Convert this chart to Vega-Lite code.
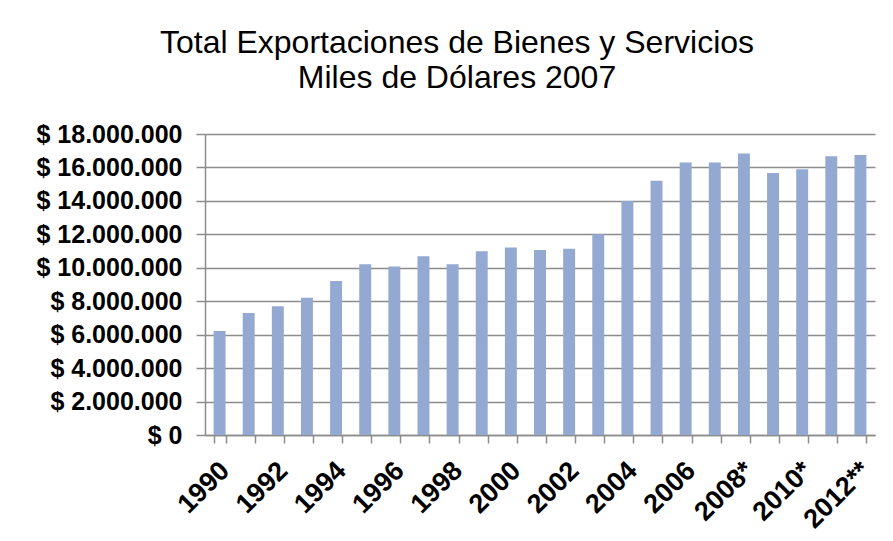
{
  "$schema": "https://vega.github.io/schema/vega-lite/v6.json",
  "width": 670,
  "height": 301,
  "autosize": {"type": "none"},
  "padding": {"left": 205, "top": 134, "right": 18, "bottom": 106},
  "background": "white",
  "config": {
    "view": {"stroke": null},
    "font": "Liberation Sans",
    "locale": {"number": {"decimal": ",", "thousands": ".", "grouping": [3], "currency": ["$ ", ""]}}
  },
  "title": {
    "text": ["Total Exportaciones de Bienes y Servicios", "Miles de Dólares 2007"],
    "fontSize": 32,
    "fontWeight": "normal",
    "font": "Liberation Sans",
    "color": "black",
    "anchor": "middle",
    "dx": -83,
    "offset": 27,
    "lineHeight": 35
  },
  "data": {
    "values": [
      {"year": "1990", "value": 6220000},
      {"year": "1991", "value": 7300000},
      {"year": "1992", "value": 7700000},
      {"year": "1993", "value": 8210000},
      {"year": "1994", "value": 9210000},
      {"year": "1995", "value": 10210000},
      {"year": "1996", "value": 10070000},
      {"year": "1997", "value": 10690000},
      {"year": "1998", "value": 10210000},
      {"year": "1999", "value": 10990000},
      {"year": "2000", "value": 11220000},
      {"year": "2001", "value": 11060000},
      {"year": "2002", "value": 11140000},
      {"year": "2003", "value": 12000000},
      {"year": "2004", "value": 14000000},
      {"year": "2005", "value": 15210000},
      {"year": "2006", "value": 16290000},
      {"year": "2007", "value": 16290000},
      {"year": "2008*", "value": 16830000},
      {"year": "2009*", "value": 15670000},
      {"year": "2010*", "value": 15890000},
      {"year": "2011*", "value": 16670000},
      {"year": "2012**", "value": 16750000}
    ]
  },
  "mark": {"type": "bar", "color": "#94A9D1"},
  "encoding": {
    "x": {
      "field": "year",
      "type": "ordinal",
      "sort": null,
      "title": null,
      "scale": {"paddingInner": 0.59, "paddingOuter": 0.295},
      "axis": {
        "tickBand": "extent",
        "tickSize": 8,
        "tickColor": "#8c8c8c",
        "tickWidth": 1.5,
        "domainColor": "#8c8c8c",
        "domainWidth": 1.5,
        "labelAngle": -45,
        "labelFont": "Liberation Sans",
        "labelFontSize": 27,
        "labelFontWeight": "bold",
        "labelColor": "black",
        "labelOverlap": false,
        "labelBound": false,
        "labelPadding": 14,
        "labelOffset": -4,
        "labelExpr": "indexof(['1990','1992','1994','1996','1998','2000','2002','2004','2006','2008*','2010*','2012**'], datum.value) >= 0 ? datum.value : ''"
      }
    },
    "y": {
      "field": "value",
      "type": "quantitative",
      "title": null,
      "scale": {"domain": [0, 18000000], "nice": false},
      "axis": {
        "values": [0, 2000000, 4000000, 6000000, 8000000, 10000000, 12000000, 14000000, 16000000, 18000000],
        "format": "$,.0f",
        "grid": true,
        "gridColor": "#8c8c8c",
        "gridWidth": 1.5,
        "gridOpacity": 1,
        "domainColor": "#8c8c8c",
        "domainWidth": 1.5,
        "tickColor": "#8c8c8c",
        "tickWidth": 1.5,
        "tickSize": 9,
        "labelPadding": 14,
        "labelFont": "Liberation Sans",
        "labelFontSize": 25,
        "labelFontWeight": "bold",
        "labelColor": "black"
      }
    }
  }
}
